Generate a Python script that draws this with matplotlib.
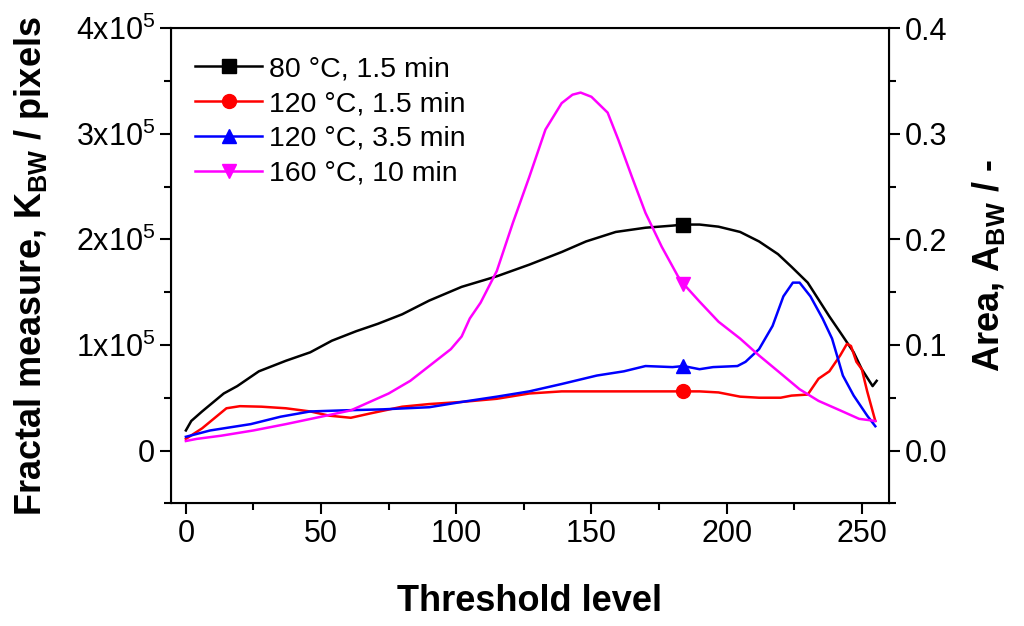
import numpy as np
import matplotlib
matplotlib.use('Agg')
import matplotlib.pyplot as plt
from matplotlib.ticker import MultipleLocator, FuncFormatter

plt.rcParams['font.family'] = ['Liberation Sans', 'DejaVu Sans']
plt.rcParams['mathtext.default'] = 'regular'

# threshold level vs fractal measure (values in units of 1e5 pixels)
thr_80_15 = [0, 2, 6, 14, 19, 27, 37, 46, 54, 63, 71, 80, 90, 102, 115, 127, 139, 148,
             159, 170, 180, 184, 190, 197, 205, 212, 219, 224, 230, 234, 238, 242, 247,
             250, 254, 255.5]
k_80_15 = [0.19, 0.28, 0.37, 0.54, 0.61, 0.75, 0.85, 0.93, 1.04, 1.13, 1.20, 1.29, 1.42,
           1.55, 1.65, 1.76, 1.88, 1.98, 2.07, 2.11, 2.13, 2.14, 2.14, 2.12, 2.07, 1.98,
           1.86, 1.74, 1.59, 1.43, 1.27, 1.12, 0.93, 0.77, 0.61, 0.66]

thr_120_15 = [0, 6, 15, 20, 28, 37, 46, 53, 61, 68, 80, 90, 102, 115, 127, 139, 152, 164,
              176, 184, 190, 197, 205, 212, 220, 224, 230, 234, 238, 242, 244.5, 246, 248,
              250, 252, 255]
k_120_15 = [0.11, 0.21, 0.40, 0.42, 0.415, 0.40, 0.37, 0.33, 0.31, 0.35, 0.415, 0.44, 0.46,
            0.49, 0.54, 0.56, 0.56, 0.56, 0.56, 0.56, 0.56, 0.55, 0.51, 0.50, 0.50, 0.52,
            0.53, 0.68, 0.75, 0.90, 1.01, 0.99, 0.84, 0.77, 0.56, 0.28]

thr_120_35 = [0, 9, 24, 35, 46, 58, 73, 90, 102, 115, 127, 139, 152, 162, 170, 180, 184,
              190, 195, 204, 207, 212, 217, 221, 224.5, 227, 231, 235.5, 239, 243, 247,
              252, 255]
k_120_35 = [0.13, 0.19, 0.25, 0.32, 0.37, 0.38, 0.39, 0.41, 0.46, 0.51, 0.56, 0.63, 0.71,
            0.75, 0.80, 0.79, 0.80, 0.77, 0.79, 0.80, 0.84, 0.96, 1.18, 1.46, 1.59, 1.59,
            1.46, 1.25, 1.06, 0.71, 0.52, 0.33, 0.23]

thr_160_10 = [0, 4, 13, 25, 37, 50, 61, 68, 75, 83, 90, 98, 102, 105, 109, 115, 121, 127,
              133, 139, 143, 146, 150, 156, 160, 165, 170, 176, 182, 184, 190, 197, 205, 212,
              220, 227, 234, 242, 249, 255]
k_160_10 = [0.09, 0.11, 0.14, 0.19, 0.25, 0.32, 0.38, 0.46, 0.54, 0.66, 0.80, 0.96, 1.08,
            1.25, 1.40, 1.70, 2.16, 2.59, 3.04, 3.29, 3.37, 3.39, 3.35, 3.20, 2.94, 2.59,
            2.25, 1.93, 1.65, 1.58, 1.41, 1.22, 1.06, 0.90, 0.73, 0.58, 0.47, 0.38, 0.30,
            0.28]

series = [
    (thr_80_15, k_80_15, 'k', 's', u'80 \u00b0C, 1.5 min'),
    (thr_120_15, k_120_15, 'r', 'o', u'120 \u00b0C, 1.5 min'),
    (thr_120_35, k_120_35, 'b', '^', u'120 \u00b0C, 3.5 min'),
    (thr_160_10, k_160_10, 'magenta', 'v', u'160 \u00b0C, 10 min'),
]
marker_thr = 184

fig = plt.figure(figsize=(10.24, 6.26), dpi=100)
ax = fig.add_axes([0.167, 0.196, 0.701, 0.759])

for x, y, c, m, lab in series:
    x = np.array(x)
    y = np.array(y) * 1e5
    idx = int(np.argmin(np.abs(x - marker_thr)))
    ax.plot(x, y, color=c, lw=1.8, marker=m, markersize=10, markevery=[idx], label=lab)

ax.set_xlim(-5.5, 260)
ax.set_ylim(-0.5e5, 4e5)
ax.xaxis.set_major_locator(MultipleLocator(50))
ax.xaxis.set_minor_locator(MultipleLocator(25))
ax.yaxis.set_major_locator(MultipleLocator(1e5))
ax.yaxis.set_minor_locator(MultipleLocator(0.5e5))


def kfmt(v, pos):
    n = int(round(v / 1e5))
    if n == 0:
        return '0'
    return r'%dx10$^{5}$' % n


ax.yaxis.set_major_formatter(FuncFormatter(kfmt))
ax.tick_params(which='both', direction='out', width=1.5, labelsize=22, top=False)
ax.tick_params(which='major', length=8)
ax.tick_params(which='minor', length=5)
for s in ax.spines.values():
    s.set_linewidth(1.5)

ax2 = ax.twinx()
ax2.set_ylim(-0.05, 0.4)
ax2.yaxis.set_major_locator(MultipleLocator(0.1))
ax2.yaxis.set_minor_locator(MultipleLocator(0.05))
ax2.yaxis.set_major_formatter(FuncFormatter(lambda v, p: '%.1f' % v))
ax2.tick_params(which='both', direction='out', width=1.5, labelsize=22)
ax2.tick_params(which='major', length=8)
ax2.tick_params(which='minor', length=5)

ax.set_xlabel('Threshold level', fontsize=26, fontweight='bold', labelpad=25)
ax.set_ylabel(r'Fractal measure, K$_{BW}$ / pixels', fontsize=26, fontweight='bold', labelpad=18)
ax2.set_ylabel(r'Area, A$_{BW}$ / -', fontsize=26, fontweight='bold', labelpad=16)

ax.legend(loc='upper left', bbox_to_anchor=(0.018, 0.965), frameon=False, fontsize=20.5,
          handlelength=2.35, handletextpad=0.25, labelspacing=0.31, borderaxespad=0)

fig.savefig('out.png', dpi=100)
